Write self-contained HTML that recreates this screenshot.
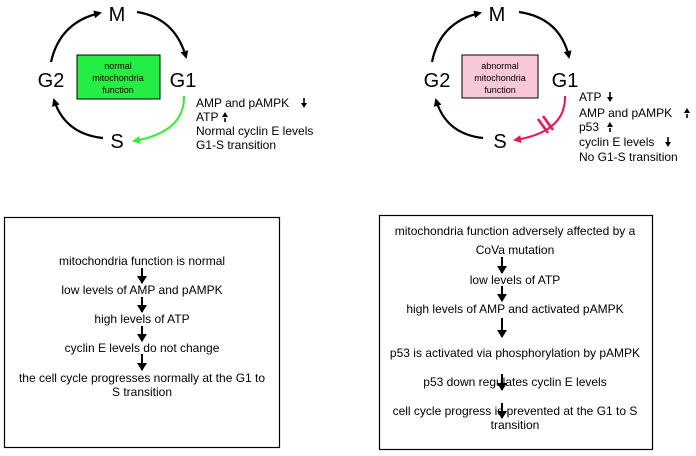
<!DOCTYPE html>
<html><head><style>
body{margin:0;background:#fff;}
svg{display:block;font-family:"Liberation Sans",Arial,sans-serif;}
</style></head><body>
<svg width="696" height="456" viewBox="0 0 696 456" xmlns="http://www.w3.org/2000/svg">
<defs>
<marker id="ab" markerWidth="8" markerHeight="8" refX="6" refY="4" orient="auto" markerUnits="userSpaceOnUse"><path d="M0,0 L8,4 L0,8 z" fill="#000"/></marker>
<marker id="ag" markerWidth="8" markerHeight="8" refX="6" refY="4" orient="auto" markerUnits="userSpaceOnUse"><path d="M0,0 L8,4 L0,8 z" fill="#33ee33"/></marker>
<marker id="ar" markerWidth="8" markerHeight="8" refX="6" refY="4" orient="auto" markerUnits="userSpaceOnUse"><path d="M0,0 L8,4 L0,8 z" fill="#ee1155"/></marker>
<marker id="sa" markerWidth="10" markerHeight="8" refX="5" refY="7" orient="0" markerUnits="userSpaceOnUse"><path d="M0,0 L10,0 L5,8 z" fill="#000"/></marker>
<g id="dn"><line x1="0" y1="-9" x2="0" y2="-3" stroke="#000" stroke-width="1.6"/><path d="M-3,-4 L3,-4 L0,1 z"/></g>
<g id="up"><line x1="0" y1="-3" x2="0" y2="1" stroke="#000" stroke-width="1.6"/><path d="M-3,-4 L3,-4 L0,-9 z"/></g>
</defs>
<g fill="none" stroke="#000" stroke-width="2.2">
<path d="M137,12 Q175,18 186,57" marker-end="url(#ab)"/>
<path d="M51,62 Q60,22 100,13" marker-end="url(#ab)"/>
<path d="M103,138 Q65,134 54,100" marker-end="url(#ab)"/>
<path d="M519,12 Q560,18 569,57" marker-end="url(#ab)"/>
<path d="M432,62 Q440,22 480,13" marker-end="url(#ab)"/>
<path d="M483,138 Q446,134 436,100" marker-end="url(#ab)"/>
</g>
<path d="M184,96 Q185,132 134,141" fill="none" stroke="#33ee33" stroke-width="2" marker-end="url(#ag)"/>
<path d="M565,96 Q566,132 515,140" fill="none" stroke="#ee1155" stroke-width="2" marker-end="url(#ar)"/>
<g stroke="#ee1155" stroke-width="2.5"><line x1="538" y1="119" x2="548" y2="133"/><line x1="543" y1="116" x2="553" y2="130"/></g>
<g font-size="20">
<text x="117" y="21" text-anchor="middle">M</text>
<text x="51" y="87" text-anchor="middle">G2</text>
<text x="183" y="87" text-anchor="middle">G1</text>
<text x="117" y="148" text-anchor="middle">S</text>
<text x="497" y="21" text-anchor="middle">M</text>
<text x="437" y="87" text-anchor="middle">G2</text>
<text x="565" y="87" text-anchor="middle">G1</text>
<text x="500" y="148" text-anchor="middle">S</text>
</g>
<rect x="77" y="55" width="83" height="44" fill="#22ee44" stroke="#000"/>
<g font-size="9" text-anchor="middle"><text x="118" y="69">normal</text><text x="118" y="81">mitochondria</text><text x="118" y="93">function</text></g>
<rect x="462" y="55" width="76" height="43" fill="#f9c8d6" stroke="#000"/>
<g font-size="9" text-anchor="middle"><text x="500" y="69">abnormal</text><text x="500" y="81">mitochondria</text><text x="500" y="93">function</text></g>
<g font-size="12">
<text x="196" y="107">AMP and pAMPK</text>
<text x="196" y="121">ATP</text>
<text x="196" y="135">Normal cyclin E levels</text>
<text x="196" y="149">G1-S transition</text>
<text x="579" y="101">ATP</text>
<text x="579" y="117">AMP and pAMPK</text>
<text x="579" y="131">p53</text>
<text x="579" y="146">cyclin E levels</text>
<text x="579" y="161">No G1-S transition</text>
</g>
<use href="#dn" x="304" y="107"/>
<use href="#up" x="225" y="121"/>
<use href="#dn" x="610" y="101"/>
<use href="#up" x="687" y="117"/>
<use href="#up" x="610" y="131"/>
<use href="#dn" x="668" y="146"/>
<rect x="4.5" y="217.5" width="275" height="230" fill="none" stroke="#000" stroke-width="1.2"/>
<g font-size="12" text-anchor="middle">
<text x="142" y="265">mitochondria function is normal</text>
<text x="142" y="294">low levels of AMP and pAMPK</text>
<text x="142" y="323">high levels of ATP</text>
<text x="142" y="352">cyclin E levels do not change</text>
<text x="142" y="382">the cell cycle progresses normally at the G1 to</text>
<text x="142" y="396">S transition</text>
</g>
<g stroke="#000" stroke-width="2">
<line x1="142" y1="268" x2="142" y2="283" marker-end="url(#sa)"/>
<line x1="142" y1="297" x2="142" y2="312" marker-end="url(#sa)"/>
<line x1="142" y1="326" x2="142" y2="341" marker-end="url(#sa)"/>
<line x1="142" y1="354" x2="142" y2="370" marker-end="url(#sa)"/>
</g>
<rect x="379.5" y="215.5" width="273" height="234" fill="none" stroke="#000" stroke-width="1.2"/>
<g font-size="12" text-anchor="middle">
<text x="515" y="235">mitochondria function adversely affected by a</text>
<text x="515" y="254">CoVa mutation</text>
<text x="515" y="284">low levels of ATP</text>
<text x="515" y="313">high levels of AMP and activated pAMPK</text>
<text x="515" y="357">p53 is activated via phosphorylation by pAMPK</text>
<text x="515" y="386">p53 down regulates cyclin E levels</text>
<text x="515" y="415">cell cycle progress is prevented at the G1 to S</text>
<text x="515" y="429">transition</text>
</g>
<g stroke="#000" stroke-width="2">
<line x1="502" y1="257" x2="502" y2="273" marker-end="url(#sa)"/>
<line x1="502" y1="286" x2="502" y2="301" marker-end="url(#sa)"/>
<line x1="502" y1="318" x2="502" y2="337" marker-end="url(#sa)"/>
<line x1="502" y1="374" x2="502" y2="390" marker-end="url(#sa)"/>
<line x1="502" y1="403" x2="502" y2="418" marker-end="url(#sa)"/>
</g>
</svg>
</body></html>
